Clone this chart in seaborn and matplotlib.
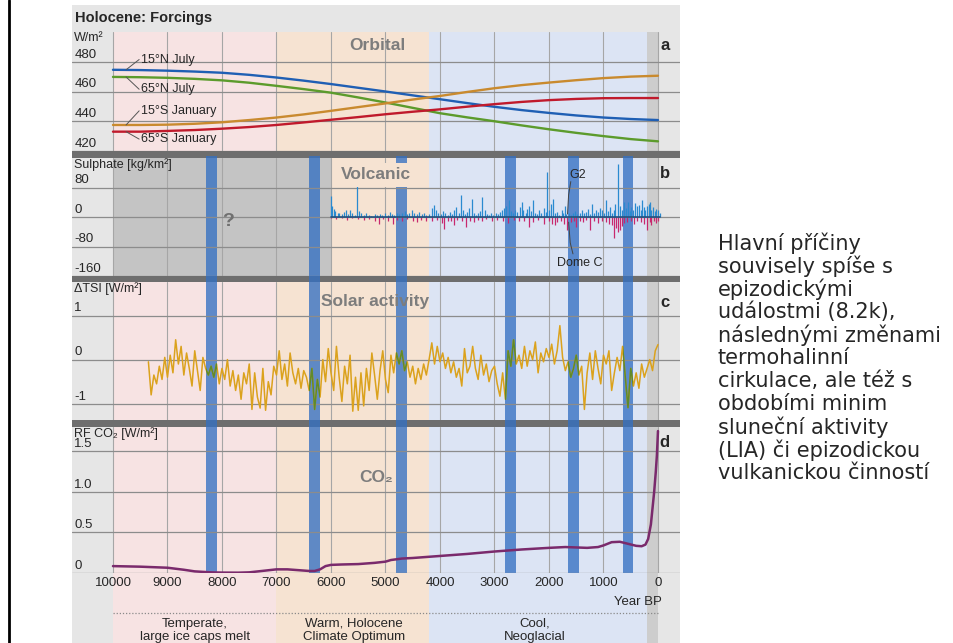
import numpy as np
import pandas as pd
import matplotlib
matplotlib.use("Agg")
import matplotlib.pyplot as plt
import seaborn as sns
from matplotlib.lines import Line2D
from matplotlib.patches import Rectangle

sns.set_style("white")
plt.rcParams["font.family"] = ["Liberation Sans", "DejaVu Sans"]

# ---------------- data ----------------
orbital_years = [10000, 9500, 9000, 8500, 8000, 7500, 7000, 6500, 6000, 5500, 5000,
                 4500, 4000, 3500, 3000, 2500, 2000, 1500, 1000, 500, 0]
insol_15N_july = [474.6, 474.4, 474.0, 473.4, 472.6, 471.2, 469.4, 467.3, 465.0, 462.5, 460.0,
                  457.4, 454.8, 452.2, 449.7, 447.5, 445.6, 443.9, 442.5, 441.5, 440.8]
insol_65N_july = [469.8, 469.6, 469.2, 468.5, 467.5, 465.9, 463.8, 461.6, 459.2, 456.0, 452.6,
                  449.0, 445.4, 442.6, 440.0, 437.2, 434.6, 432.2, 430.0, 428.0, 426.5]
insol_15S_jan = [437.5, 437.5, 437.7, 438.3, 439.3, 440.8, 442.5, 444.6, 447.0, 449.5, 452.0,
                 454.6, 457.0, 459.7, 462.2, 464.3, 466.0, 467.6, 469.0, 470.0, 470.6]
insol_65S_jan = [433.0, 433.0, 433.5, 434.1, 435.0, 436.1, 437.5, 439.2, 441.0, 442.8, 444.7,
                 446.4, 448.0, 449.8, 451.5, 453.0, 454.2, 455.0, 455.5, 455.6, 455.6]
orbital_names = ["15°N July", "65°N July", "15°S January", "65°S January"]

# Greenland (G2) sulphate, plotted upwards
g2_years = [6000, 5980, 5950, 5920, 5880, 5850, 5800, 5760, 5720, 5690, 5650, 5610, 5560, 5520,
            5490, 5450, 5400, 5350, 5310, 5260, 5200, 5150, 5100, 5060, 5000, 4960, 4920, 4880,
            4840, 4790, 4750, 4700, 4650, 4600, 4560, 4510, 4470, 4420, 4380, 4330, 4290, 4250,
            4200, 4150, 4110, 4070, 4030, 3990, 3950, 3900, 3860, 3820, 3780, 3740, 3700, 3660,
            3620, 3580, 3540, 3500, 3460, 3420, 3380, 3340, 3300, 3260, 3220, 3180, 3140, 3100,
            3060, 3020, 2980, 2940, 2900, 2860, 2820, 2780, 2740, 2700, 2660, 2620, 2580, 2540,
            2500, 2470, 2430, 2400, 2360, 2330, 2290, 2260, 2220, 2180, 2140, 2100, 2060, 2040,
            2000, 1960, 1930, 1890, 1850, 1810, 1770, 1740, 1710, 1680, 1640, 1600, 1560, 1520,
            1480, 1440, 1400, 1360, 1320, 1280, 1240, 1210, 1180, 1140, 1100, 1060, 1020, 990,
            955, 920, 880, 850, 810, 780, 740, 700, 660, 620, 590, 557, 520, 490, 460, 420, 390,
            350, 320, 290, 260, 230, 200, 170, 150, 120, 90, 60, 30, 0, -30]
g2_sulphate = [58, 30, 22, 15, 10, 12, 8, 14, 20, 9, 18, 12, 6, 83,
               16, 10, 5, 12, 6, 4, 9, 6, 7, 5, 10, 6, 14, 8,
               6, 12, 8, 10, 15, 9, 12, 18, 10, 7, 14, 9, 11, 6,
               8, 24, 32, 18, 12, 8, 16, 10, 6, 14, 9, 20, 28, 12,
               60, 18, 8, 14, 24, 50, 12, 6, 10, 15, 55, 20, 8, 6,
               10, 5, 12, 8, 14, 18, 24, 30, 45, 16, 10, 20, 14, 26,
               40, 18, 12, 22, 30, 16, 45, 12, 8, 18, 10, 24, 14, 123,
               20, 36, 50, 10, 14, 6, 18, 12, 30, 8, 12, 6, 10, 16,
               8, 12, 18, 10, 14, 22, 8, 36, 12, 20, 14, 24, 18, 10,
               45, 16, 28, 12, 20, 35, 145, 30, 18, 40, 25, 40, 15, 28, 20, 38, 30,
               32, 20, 45, 26, 18, 30, 36, 42, 20, 28, 15, 22, 18, 12]

# Antarctic (Dome C) sulphate, plotted downwards
domec_years = [6000, 5900, 5800, 5700, 5620, 5500, 5400, 5300, 5200, 5116, 5050, 4950, 4862,
               4780, 4700, 4600, 4500, 4420, 4350, 4250, 4150, 4050, 3960, 3922, 3860, 3800,
               3741, 3680, 3600, 3524, 3450, 3380, 3300, 3220, 3150, 3050, 2950, 2850, 2750,
               2650, 2550, 2450, 2366, 2300, 2200, 2100, 2000, 1940, 1896, 1850, 1780, 1720,
               1678, 1600, 1540, 1500, 1440, 1380, 1320, 1244, 1180, 1100, 1020, 960, 900, 850,
               810, 770, 738, 700, 660, 620, 560, 500, 440, 380, 320, 260, 195, 150, 120, 80,
               40, 0]
domec_sulphate = [4, 6, 3, 8, 4, 5, 8, 5, 10, 18, 6, 10, 20,
                  8, 12, 6, 10, 14, 8, 10, 12, 8, 15, 32, 12, 10,
                  22, 8, 12, 26, 10, 14, 8, 12, 6, 10, 8, 12, 16,
                  8, 12, 10, 26, 14, 8, 18, 12, 20, 22, 14, 10, 18,
                  34, 14, 12, 26, 10, 14, 8, 36, 12, 16, 10, 14, 18, 22,
                  58, 30, 40, 34, 24, 16, 14, 12, 18, 10, 14, 20, 36, 14, 22, 12,
                  16, 10]

# Total solar irradiance anomaly, 50-year steps from 9350 to 0 yr BP
tsi_years = np.arange(9350, -1, -50)
tsi_anomaly = [
    -0.05, -0.80, -0.35, -0.55, -0.15, -0.45, 0.05, -0.40,
    0.10, -0.30, 0.45, -0.10, 0.30, -0.35, 0.15, -0.20, -0.60, 0.20,
    -0.25, -0.70, 0.05, -0.20, -0.35, -0.15, -0.40, -0.10, -0.55, -0.20,
    -0.45, 0.00, -0.60, -0.25, -0.70, -0.35, -0.90, -0.30, -0.55, -0.10,
    -1.13, -0.30, -0.85, -1.10, -0.20, -1.15, -0.50, -0.80, -0.15, -0.35,
    0.20, -0.45, -0.10, -0.60, 0.15, -0.30, -0.55, -0.20, -0.65, -0.25,
    -0.40, -0.70, -0.20, -1.13, -0.45, -0.85, 0.00, -0.50, 0.25, -0.30,
    -0.70, 0.30, -0.40, -0.95, -0.15, -0.55, 0.10, -1.17, -0.40, -1.15,
    -0.30, -1.05, -0.20, -0.70, 0.15, -0.35, -0.90, -0.25, 0.20, -0.45,
    -0.75, 0.10, -0.30, 0.15, -0.10, 0.20, -0.25, -0.05, -0.40, -0.15,
    -0.55, -0.20, -0.45, -0.10, -0.35, 0.00, 0.38, -0.10, 0.30, -0.05,
    0.15, -0.20, 0.05, -0.30, -0.05, -0.40, -0.20, -0.60, 0.25, -0.30,
    -0.15, 0.30, -0.20, -0.45, 0.10, -0.35, -0.10, -0.50, -0.25, -0.15,
    -0.55, -0.83, -0.30, -0.90, 0.20, -0.15, 0.45, -0.10, 0.10, -0.20,
    0.30, -0.15, 0.20, 0.00, 0.40, -0.30, 0.15, -0.05, 0.25, 0.05,
    0.35, -0.10, 0.20, 0.77, 0.05, -0.25, -0.05, -0.40, -0.20, 0.10,
    -0.35, -0.15, -1.13, -0.30, 0.15, -0.45, 0.20, -0.20, -0.55, 0.10,
    -0.10, 0.20, -0.70, -0.30, 0.05, -0.25, 0.30, -0.40, -1.09, -0.20,
    -0.60, -0.30, -0.65, -0.10, -0.40, -0.20, 0.00, -0.25, 0.20, 0.34,
]

# CO2 radiative forcing
co2_years = [10000, 9500, 9000, 8700, 8500, 8200, 8000, 7700, 7500, 7200, 7000, 6800, 6600,
             6400, 6300, 6200, 6100, 6000, 5800, 5500, 5200, 5000, 4900, 4700, 4500, 4200,
             4000, 3500, 3000, 2500, 2000, 1700, 1500, 1300, 1100, 1000, 850, 700, 550, 400,
             300, 230, 180, 130, 100, 70, 40, 20, 0]
co2_rf = [0.085, 0.078, 0.065, 0.040, 0.020, 0.008, 0.005, 0.004, 0.008, 0.030, 0.045, 0.045,
          0.035, 0.025, 0.025, 0.045, 0.085, 0.100, 0.105, 0.110, 0.125, 0.140, 0.160, 0.178,
          0.185, 0.200, 0.210, 0.235, 0.265, 0.290, 0.310, 0.320, 0.315, 0.310, 0.320, 0.340,
          0.380, 0.385, 0.360, 0.335, 0.330, 0.350, 0.420, 0.600, 0.800, 1.000, 1.250, 1.450,
          1.750]

# climate periods and cold events
period_names = ["Temperate,\nlarge ice caps melt", "Warm, Holocene\nClimate Optimum", "Cool,\nNeoglacial"]
period_bounds = [(10000, 7000), (7000, 4200), (4200, 200)]
period_label_years = [8500, 5580, 2260]
period_colors = ["#f7e3e3", "#f6e3d2", "#dce4f4"]
modern_strip = (200, 0)
volcanic_gap = (10000, 6000)
cold_events = [(8300, 8100), (6400, 6200), (4800, 4600), (2800, 2600), (1650, 1450), (650, 450)]
year_ticks = list(range(10000, -1, -1000))

note_lines = ["Hlavní příčiny", "souvisely spíše s", "epizodickými", "událostmi (8.2k),",
              "následnými změnami", "termohalinní", "cirkulace, ale též s", "obdobími minim",
              "sluneční aktivity", "(LIA) či epizodickou", "vulkanickou činností"]

# ---------------- layout ----------------
W, H = 954, 643
X0, X1 = 72, 680
XLIM = (10752, -404)
fig = plt.figure(figsize=(W / 100, H / 100), dpi=100)
fig.patch.set_facecolor("white")


def fig_rect(top, bottom):
    return [X0 / W, 1 - bottom / H, (X1 - X0) / W, (bottom - top) / H]


def box(ax, x0, x1, y0, y1, color, z, alpha=1.0):
    ax.fill_between([x0, x1], [y0, y0], [y1, y1], color=color, lw=0, zorder=z, alpha=alpha)


# background frame in pixel rows
bg = fig.add_axes(fig_rect(5, H))
bg.set_xlim(XLIM)
bg.set_ylim(H, 5)
bg.axis("off")
box(bg, XLIM[0], XLIM[1], 5, H, "#e6e6e6", 0)
for (a, b), c in zip(period_bounds, period_colors):
    box(bg, a, b, 32, H, c, 1)
box(bg, modern_strip[0], modern_strip[1], 32, H, "#cdcdcd", 1)
box(bg, volcanic_gap[0], volcanic_gap[1], 158, 276, "#c4c4c4", 1.5)
for y0, y1 in [(151, 158), (276, 282), (420, 427)]:
    box(bg, XLIM[0], XLIM[1], y0, y1, "#6e6e6e", 2)
for a, b in cold_events:
    box(bg, a, b, 156, 573, "#3470c2", 3, alpha=0.78)

fig.text(75 / W, 1 - 18 / H, "Holocene: Forcings", fontsize=10.5, fontweight="bold",
         va="center", ha="left")
for yr in year_ticks:
    bg.text(yr, 583, str(yr), fontsize=9.5, ha="center", va="center")
bg.text(-70, 602, "Year BP", fontsize=9.5, ha="right", va="center")
bg.plot([10000, 0], [613, 613], ls=(0, (1, 1.5)), color="#8a8a8a", lw=0.9, zorder=4)
for name, yr in zip(period_names, period_label_years):
    bg.text(yr, 618, name, fontsize=9.5, ha="center", va="top", linespacing=1.1, zorder=5)


def panel(top, bottom, ylim, ticks, labels, unit, letter, letter_y):
    ax = fig.add_axes(fig_rect(top, bottom))
    ax.set_xlim(XLIM)
    ax.set_ylim(ylim)
    ax.patch.set_visible(False)
    for s in ax.spines.values():
        s.set_visible(False)
    ax.set_xticks([])
    ax.set_yticks([])
    for yr in year_ticks:
        ax.axvline(yr, color="#a6a6a6", lw=0.8, zorder=0)
    for v, lab in zip(ticks, labels):
        ax.axhline(v, color="#8c8c8c", lw=0.9, zorder=0.5)
        ax.annotate(lab, xy=(0.004, v), xycoords=("axes fraction", "data"), xytext=(0, 0.8),
                    textcoords="offset points", va="bottom", ha="left", fontsize=9.5)
    ax.text(0.004, 1.0, unit, transform=ax.transAxes, va="top", ha="left", fontsize=9)
    ax.text(0.975, letter_y, letter, transform=ax.transAxes, va="center", ha="center",
            fontsize=12, fontweight="bold")
    return ax


head = dict(fontsize=12.5, fontweight="bold", color="#7d7d7d", ha="center", va="center", zorder=10)

# a: orbital insolation
ax_a = panel(32, 151, (420, 500), [480, 460, 440, 420], ["480", "460", "440", "420"],
             "W/m²", "a", 0.89)
orb = pd.DataFrame({"year": orbital_years, "15N": insol_15N_july, "65N": insol_65N_july,
                    "15S": insol_15S_jan, "65S": insol_65S_jan})
for col, color in zip(["15N", "65N", "15S", "65S"], ["#1f5fb4", "#5c9b2c", "#c98a2e", "#c01a2c"]):
    sns.lineplot(data=orb, x="year", y=col, ax=ax_a, color=color, lw=1.7, legend=False)
ax_a.set_xlabel("")
ax_a.set_ylabel("")
label_pos = [(9480, 481.5), (9480, 461.5), (9480, 447.0), (9480, 428.0)]
starts = [insol_15N_july[0], insol_65N_july[0], insol_15S_jan[0], insol_65S_jan[0]]
for name, (lx, ly), sy in zip(orbital_names, label_pos, starts):
    ax_a.plot([9760, lx + 40], [sy, ly], color="#555555", lw=0.7)
    ax_a.text(lx, ly, name, fontsize=9, va="center", ha="left")
ax_a.text(5140, 490.6, "Orbital", **head)

# b: volcanic sulphate
ax_b = panel(158, 276, (-160, 160), [80, 0, -80, -160], ["80", "0", "-80", "-160"],
             "Sulphate [kg/km²]", "b", 0.87)
ax_b.vlines(g2_years, 0, g2_sulphate, color="#2a8ad0", lw=0.9, zorder=3)
ax_b.vlines(domec_years, 0, -np.array(domec_sulphate), color="#c8286e", lw=0.9, zorder=3)
ax_b.plot([6000, -30], [0, 0], color="#23527f", lw=1.2, zorder=4)
ax_b.text(5174, 114, "Volcanic",
          bbox=dict(boxstyle="square,pad=0.25", facecolor=period_colors[1], edgecolor="none"),
          **head)
ax_b.text(7890, -13, "?", fontsize=14, fontweight="bold", color="#707070", ha="center", va="center")
ax_b.text(1480, 114, "G2", fontsize=9, ha="center", va="center")
ax_b.plot([1600, 1640, 1660], [96, 60, 8], color="#444444", lw=0.7, zorder=5)
ax_b.plot([1640, 1610, 1560], [-14, -70, -100], color="#444444", lw=0.7, zorder=5)
ax_b.text(1430, -125, "Dome C", fontsize=9, ha="center", va="center")

# c: solar activity
ax_c = panel(282, 420, (-1.37, 1.76), [1, 0, -1], ["1", "0", "-1"], "ΔTSI [W/m²]", "c", 0.855)
tsi = pd.DataFrame({"year": tsi_years, "tsi": tsi_anomaly})
sns.lineplot(data=tsi, x="year", y="tsi", ax=ax_c, color="#dba21d", lw=1.1, legend=False, zorder=3)
for a, b in cold_events:
    ln, = ax_c.plot(tsi["year"], tsi["tsi"], color="#5f8a2c", lw=1.1, zorder=4)
    ln.set_clip_path(Rectangle((b, -1.37), a - b, 3.13, transform=ax_c.transData))
ax_c.set_xlabel("")
ax_c.set_ylabel("")
ax_c.text(5190, 1.31, "Solar activity", **head)

# d: CO2 forcing
ax_d = panel(427, 573, (0, 1.8), [1.5, 1.0, 0.5, 0], ["1.5", "1.0", "0.5", "0"],
             "RF CO₂ [W/m²]", "d", 0.897)
co2 = pd.DataFrame({"year": co2_years, "rf": co2_rf})
sns.lineplot(data=co2, x="year", y="rf", ax=ax_d, color="#7a2a6c", lw=1.8, legend=False, zorder=5)
ax_d.set_xlabel("")
ax_d.set_ylabel("")
ax_d.set_ylim(0, 1.8)
ax_d.text(5174, 1.18, "CO₂", **head)

# right-hand note
for i, line in enumerate(note_lines):
    fig.text(718 / W, 1 - (243 + 23 * i) / H, line, fontsize=15, family="DejaVu Sans",
             ha="left", va="center")

# slide frame line on the left
fig.add_artist(Line2D([9 / W, 9 / W], [0, 1], transform=fig.transFigure, color="black", lw=2))

fig.savefig("out.png", dpi=100)
